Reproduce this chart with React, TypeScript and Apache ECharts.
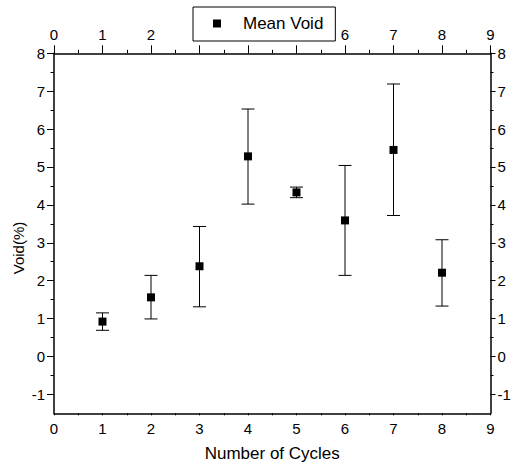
import React, { useEffect, useRef } from "react";
import * as echarts from "echarts";

const cycles = [1, 2, 3, 4, 5, 6, 7, 8];
const meanVoid = [0.92, 1.56, 2.38, 5.28, 4.33, 3.59, 5.45, 2.21];
const errLow = [0.69, 0.99, 1.31, 4.02, 4.19, 2.14, 3.72, 1.33];
const errHigh = [1.15, 2.14, 3.43, 6.53, 4.47, 5.04, 7.19, 3.08];
const yMajorTicks = [-1, 0, 1, 2, 3, 4, 5, 6, 7, 8];
const yMinorTicks = [-0.5, 0.5, 1.5, 2.5, 3.5, 4.5, 5.5, 6.5, 7.5];

const FONT = "'Liberation Sans', Arial, Helvetica, sans-serif";

export default function App() {
  const ref = useRef<HTMLDivElement>(null);
  useEffect(() => {
    document.body.style.margin = "0";
    if (!ref.current) return;
    const chart = echarts.init(ref.current, undefined, { renderer: "svg" });
    const lineStyle = { color: "#000", width: 1.5 };
    const labelBase = { color: "#000", fontSize: 15, fontFamily: FONT };
    const xBase = {
      type: "value" as const,
      min: 0,
      max: 9,
      interval: 1,
      splitLine: { show: false },
      axisLine: { show: true, onZero: false, lineStyle },
    };
    const yBase = {
      type: "value" as const,
      min: -1.5,
      max: 8,
      splitLine: { show: false },
    };
    const option: any = {
      animation: false,
      backgroundColor: "#fff",
      grid: {
        left: 54,
        right: 23.5,
        top: 53.3,
        bottom: 59.7,
        containLabel: false,
        outerBoundsMode: "none",
      },
      legend: {
        show: true,
        left: 193,
        top: 7,
        z: 10,
        selectedMode: false,
        backgroundColor: "#fff",
        borderColor: "#000",
        borderWidth: 1,
        borderRadius: 0,
        padding: [8, 12, 9, 20],
        itemWidth: 8,
        itemHeight: 8,
        data: [{ name: "Mean Void", icon: "rect" }],
        textStyle: {
          color: "#000",
          fontSize: 17,
          fontFamily: FONT,
          padding: [0, 0, 0, 17],
        },
      },
      xAxis: [
        {
          ...xBase,
          position: "bottom",
          name: "Number of Cycles",
          nameLocation: "middle",
          nameGap: 32,
          nameTextStyle: { color: "#000", fontSize: 17, fontFamily: FONT },
          axisTick: { show: true, length: 2, lineStyle: { color: "#000", width: 1 } },
          minorTick: { show: true, splitNumber: 2, length: 2, lineStyle: { color: "#000", width: 1 } },
          axisLabel: { ...labelBase, margin: 8 },
        },
        {
          ...xBase,
          position: "top",
          axisTick: { show: true, length: 8, lineStyle: { color: "#000", width: 1 } },
          minorTick: { show: true, splitNumber: 2, length: 3.5, lineStyle: { color: "#000", width: 1 } },
          axisLabel: { ...labelBase, margin: 11 },
        },
      ],
      yAxis: [
        {
          ...yBase,
          position: "left",
          axisLine: { show: true, onZero: false, lineStyle },
          axisTick: { show: true, length: 7, customValues: yMajorTicks, lineStyle: { color: "#000", width: 1 } },
          axisLabel: { ...labelBase, margin: 9, customValues: yMajorTicks },
        },
        {
          ...yBase,
          position: "left",
          axisLine: { show: false, onZero: false },
          axisTick: { show: true, length: 3.5, customValues: yMinorTicks, lineStyle: { color: "#000", width: 1 } },
          axisLabel: { show: false },
        },
        {
          ...yBase,
          position: "right",
          axisLine: { show: true, onZero: false, lineStyle },
          axisTick: { show: true, length: 5, customValues: yMajorTicks, lineStyle: { color: "#000", width: 1 } },
          axisLabel: { ...labelBase, margin: 7, customValues: yMajorTicks },
        },
        {
          ...yBase,
          position: "right",
          axisLine: { show: false, onZero: false },
          axisTick: { show: true, length: 3, customValues: yMinorTicks, lineStyle: { color: "#000", width: 1 } },
          axisLabel: { show: false },
        },
      ],
      graphic: [
        {
          type: "text",
          x: 18,
          y: 248,
          rotation: Math.PI / 2,
          style: {
            text: "Void(%)",
            fill: "#000",
            fontSize: 15,
            fontFamily: FONT,
            align: "center",
            verticalAlign: "middle",
          },
        },
      ],
      series: [
        {
          type: "custom",
          name: "errors",
          xAxisIndex: 0,
          yAxisIndex: 0,
          data: cycles.map((c, i) => [c, errLow[i], errHigh[i]]),
          encode: { x: 0, y: [1, 2] },
          silent: true,
          renderItem: (params: any, api: any) => {
            const x = api.value(0);
            const lo = api.coord([x, api.value(1)]);
            const hi = api.coord([x, api.value(2)]);
            const hw = 6.5;
            const st = { stroke: "#000", lineWidth: 1 };
            return {
              type: "group",
              children: [
                { type: "line", shape: { x1: hi[0], y1: hi[1], x2: lo[0], y2: lo[1] }, style: st },
                { type: "line", shape: { x1: hi[0] - hw, y1: hi[1], x2: hi[0] + hw, y2: hi[1] }, style: st },
                { type: "line", shape: { x1: lo[0] - hw, y1: lo[1], x2: lo[0] + hw, y2: lo[1] }, style: st },
              ],
            };
          },
          z: 2,
        },
        {
          type: "scatter",
          name: "Mean Void",
          xAxisIndex: 0,
          yAxisIndex: 0,
          symbol: "rect",
          symbolSize: 8,
          itemStyle: { color: "#000", opacity: 1 },
          data: cycles.map((c, i) => [c, meanVoid[i]]),
          z: 3,
        },
      ],
    };
    chart.setOption(option);
    return () => chart.dispose();
  }, []);
  return <div ref={ref} style={{ width: 514, height: 473 }} />;
}
